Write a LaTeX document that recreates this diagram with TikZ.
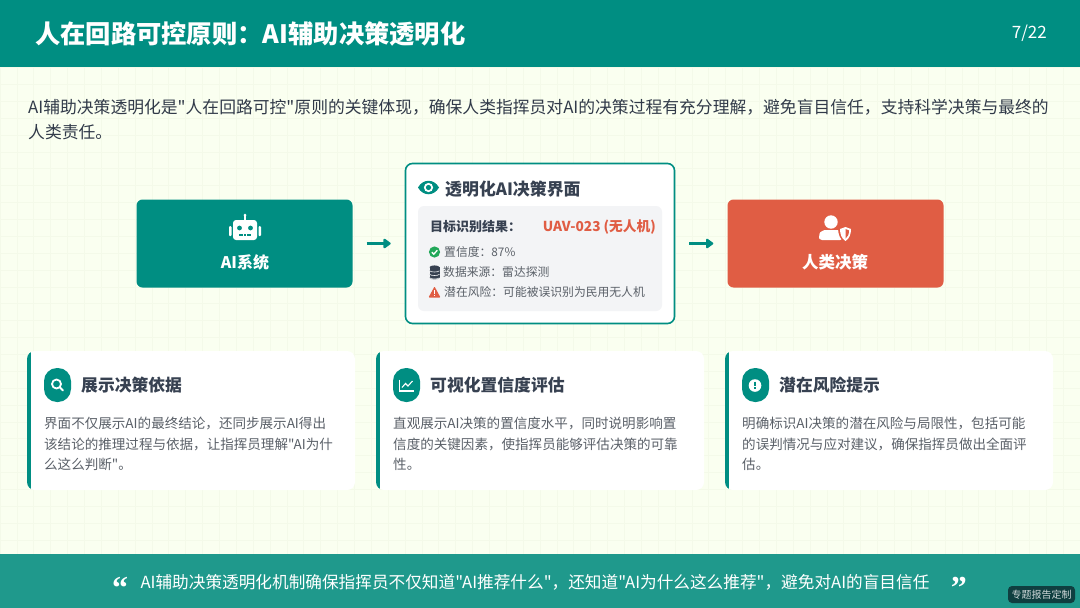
\documentclass[tikz,border=0pt]{standalone}
\usepackage{xcolor}
\usepackage{fontspec}
\newfontfamily\cjkfont{Noto Sans CJK SC}
\newfontfamily\quotefont{Liberation Serif}
\setmainfont{Noto Sans CJK SC}
\usetikzlibrary{
  arrows.meta,
  positioning,
  calc
}
\definecolor{aiTeal}{HTML}{008E82}
\definecolor{aiBand}{HTML}{1F998C}
\definecolor{aiRed}{HTML}{E05D44}
\definecolor{aiInk}{HTML}{374151}
\definecolor{aiText}{HTML}{5A6068}
\definecolor{aiPanel}{HTML}{F3F4F6}
\definecolor{aiPaper}{HTML}{FAFFF0}
\definecolor{aiGrid}{HTML}{F4FAE9}
\definecolor{aiGreen}{HTML}{22A85A}
\definecolor{aiBadge}{HTML}{0F3F40}
\newcommand{\fs}[2]{\cjkfont\fontsize{#1}{#2}\selectfont}
\tikzset{
  bar/.style={fill=#1, inner sep=0pt, outer sep=0pt, minimum width=1080pt},
  blockbox/.style={fill=#1, rounded corners=6pt, minimum width=216pt, minimum height=88pt, inner sep=0pt},
  uibox/.style={draw=aiTeal, fill=white, line width=1.6pt, rounded corners=7pt, minimum width=269pt, minimum height=160pt, inner sep=0pt},
  panel/.style={fill=aiPanel, rounded corners=6pt, minimum width=244pt, minimum height=105pt, inner sep=0pt},
  card/.style={fill=white, rounded corners=8pt, minimum width=328pt, minimum height=139pt, inner sep=0pt, outer sep=0pt},
  badge/.style={fill=aiTeal, rounded corners=13pt, minimum width=27pt, minimum height=34pt, inner sep=0pt, outer sep=0pt},
  cardtitle/.style={font=\fs{16.8}{20}\bfseries, text=aiInk, inner sep=0pt},
  cardtext/.style={font=\fs{13.55}{20.5}, text=aiText, align=left, inner sep=0pt, anchor=north west},
  blocklabel/.style={font=\fs{16}{20}\bfseries, text=white, inner sep=0pt},
  uiline/.style={font=\fs{11.8}{14}, text=aiText, inner sep=0pt, anchor=west},
  quotemark/.style={font=\quotefont\fontsize{32}{32}\selectfont\bfseries, text=white, inner sep=0pt, yshift=-6pt},
  flow/.style={-{Triangle[length=8pt,width=11pt,round]}, line width=2.6pt, aiTeal, shorten >=14pt, shorten <=14pt},
  icon/.style={fill=white, draw=none}
}
\begin{document}
\begin{tikzpicture}[x=1pt, y=-1pt, node distance=21pt]
  \useasboundingbox (0,0) rectangle (1080,608);
  \fill[aiPaper] (0,0) rectangle (1080,608);
  \draw[aiGrid, line width=0.6pt, step=16.875pt] (0,0) grid (1080,608);

  \node[bar=aiTeal, minimum height=67pt, anchor=north west] (header) at (0,0) {};
  \node[font=\fs{25.3}{30}\bfseries, text=white, inner sep=0pt, right=35pt of header.west] (title) {人在回路可控原则：AI辅助决策透明化};
  \node[font=\fs{17}{20}, text=white, inner sep=0pt, left=33pt of header.east] (pageno) {7/22};

  \node[font=\fs{16.8}{25}, text=aiInk!90!black, align=left, inner sep=0pt, anchor=north west] (intro) at (28,99.5) {AI辅助决策透明化是"人在回路可控"原则的关键体现，确保人类指挥员对AI的决策过程有充分理解，避免盲目信任，支持科学决策与最终的\\人类责任。};

  \node[uibox] (uibox) at (540,243.5) {};
  \node[blockbox=aiTeal, left=52pt of uibox] (aibox) {};
  \node[blockbox=aiRed, right=52pt of uibox] (humanbox) {};
  \draw[flow] (aibox) -- (uibox);
  \draw[flow] (uibox) -- (humanbox);

  \node[blocklabel] (ailabel) at (245,262) {AI系统};
  \fill[icon, rounded corners=3pt] (233,220) rectangle (257,240);
  \fill[icon] (244,215) rectangle (246,220);
  \fill[icon] (245,215) circle (1.5);
  \fill[icon, rounded corners=1pt] (229,226) rectangle (231.5,236);
  \fill[icon, rounded corners=1pt] (258.5,226) rectangle (261,236);
  \fill[aiTeal] (239.5,228) circle (2.4) (250.5,228) circle (2.4);
  \draw[aiTeal, line width=1.4pt] (239,235) -- (243,235) (243.8,235) -- (246.2,235) (247,235) -- (251,235);

  \node[blocklabel, font=\fs{16.5}{20}\bfseries] (humanlabel) at (835,262) {人类决策};
  \fill[icon] (831,222) circle (6.7);
  \fill[icon, rounded corners=3pt] (819,240) -- (819,236) .. controls (820,232) and (824,230) .. (828,230) -- (835,230) .. controls (840,230) and (843,232) .. (843,236) -- (843,240) -- cycle;
  \fill[aiRed] (845.5,224.5) -- (853,227.5) .. controls (853,234) and (851,240) .. (845.5,243) .. controls (840,240) and (838,234) .. (838,227.5) -- cycle;
  \fill[icon] (845.5,227) -- (851,229) .. controls (851,234) and (849.5,238.5) .. (845.5,241) .. controls (841.5,238.5) and (840,234) .. (840,229) -- cycle;
  \fill[aiRed] (845.5,229) -- (849,230.4) .. controls (849,234) and (848,237) .. (845.5,238.6) -- cycle;

  \fill[aiTeal] (418,187.5) .. controls (423,178.5) and (434,178.5) .. (439,187.5) .. controls (434,196.5) and (423,196.5) .. (418,187.5) -- cycle;
  \fill[white] (428.5,187.5) circle (4.6);
  \fill[aiTeal] (428.5,187.5) circle (2.6);
  \node[font=\fs{16.9}{20}\bfseries, text=aiInk, inner sep=0pt, anchor=west] (uititle) at (445,189) {透明化AI决策界面};

  \node[panel] (panel) at (540,258.5) {};
  \node[font=\fs{13}{15}\bfseries, text=aiInk, inner sep=0pt, anchor=west] (target) at (430,227) {目标识别结果：};
  \node[font=\fs{13.7}{15}\bfseries, text=aiRed, inner sep=0pt, anchor=east] (uav) at (656,227) {UAV-023 (无人机)};
  \node[uiline] (conf) at (444,252) {置信度：87\%};
  \node[uiline] (source) at (443,272) {数据来源：雷达探测};
  \node[uiline] (risk) at (444,292) {潜在风险：可能被误识别为民用无人机};

  \fill[aiGreen] (434.5,252) circle (5.6);
  \draw[white, line width=1.3pt] (431.8,252.2) -- (433.8,254.2) -- (437.3,250.2);
  \foreach \y in {276,272.5,269}{
    \fill[aiInk] (429.5,\y-1.8) rectangle (439.5,\y+1.8);
    \fill[aiInk] (434.5,\y+1.8) ellipse (5 and 1.6);
    \draw[aiPanel, line width=0.6pt] (429.5,\y+1.8) .. controls (431,\y+3.4) and (438,\y+3.4) .. (439.5,\y+1.8);
  }
  \fill[aiInk] (434.5,267.2) ellipse (5 and 1.8);
  \fill[aiRed, rounded corners=0.8pt] (434.5,286.5) -- (440.5,297.5) -- (428.5,297.5) -- cycle;
  \draw[white, line width=1.1pt] (434.5,290) -- (434.5,293.8) (434.5,294.8) -- (434.5,296);

  \node[card, anchor=north west] (carda) at (27,351) {};
  \node[card, right=of carda] (cardb) {};
  \node[card, right=of cardb] (cardc) {};
  \foreach \c in {carda,cardb,cardc}{
    \begin{scope}
      \clip[rounded corners=8pt] (\c.north west) rectangle (\c.south east);
      \fill[aiTeal] (\c.north west) rectangle ($(\c.south west)+(3.6,0)$);
    \end{scope}
  }

  \node[badge, anchor=west] (badgea) at ($(carda.west)+(17,-35.5)$) {};
  \node[cardtitle, right=10pt of badgea] (titlea) {展示决策依据};
  \node[cardtext] (texta) at ($(carda.north west)+(17,66)$) {界面不仅展示AI的最终结论，还同步展示AI得出\\该结论的推理过程与依据，让指挥员理解"AI为什\\么这么判断"。};
  \draw[white, line width=1.8pt] (56.5,384) circle (4.5);
  \draw[white, line width=2pt, line cap=round] (60,387.5) -- (63,390.5);

  \node[badge, anchor=west] (badgeb) at ($(cardb.west)+(17,-35.5)$) {};
  \node[cardtitle, right=10pt of badgeb] (titleb) {可视化置信度评估};
  \node[cardtext] (textb) at ($(cardb.north west)+(17,66)$) {直观展示AI决策的置信度水平，同时说明影响置\\信度的关键因素，使指挥员能够评估决策的可靠\\性。};
  \draw[white, line width=1.1pt] (399.5,379.5) -- (399.5,391) -- (413.5,391);
  \draw[white, line width=1.1pt] (402,387.5) -- (405.5,383.5) -- (408,386) -- (412.5,381);

  \node[badge, anchor=west] (badgec) at ($(cardc.west)+(17,-35.5)$) {};
  \node[cardtitle, right=10pt of badgec] (titlec) {潜在风险提示};
  \node[cardtext] (textc) at ($(cardc.north west)+(17,66)$) {明确标识AI决策的潜在风险与局限性，包括可能\\的误判情况与应对建议，确保指挥员做出全面评\\估。};
  \fill[white] (755,385.5) circle (6.3);
  \draw[aiTeal, line width=1.5pt] (755,381.7) -- (755,386.3) (755,387.4) -- (755,389);

  \node[bar=aiBand, minimum height=54pt, anchor=south west] (band) at (0,608) {};
  \node[font=\fs{16.65}{20}, text=white, inner sep=0pt] (quote) at (535,582) {AI辅助决策透明化机制确保指挥员不仅知道"AI推荐什么"，还知道"AI为什么这么推荐"，避免对AI的盲目信任};
  \node[quotemark, left=12pt of quote] (openq) {“};
  \node[quotemark, right=21pt of quote] (closeq) {”};

  \node[fill=aiBadge, rounded corners=4pt, text=white!80!aiBadge, font=\fs{10}{12}, inner sep=0pt, minimum width=67pt, minimum height=17pt] (stamp) at (1041.5,594.5) {专题报告定制};
\end{tikzpicture}
\end{document}
